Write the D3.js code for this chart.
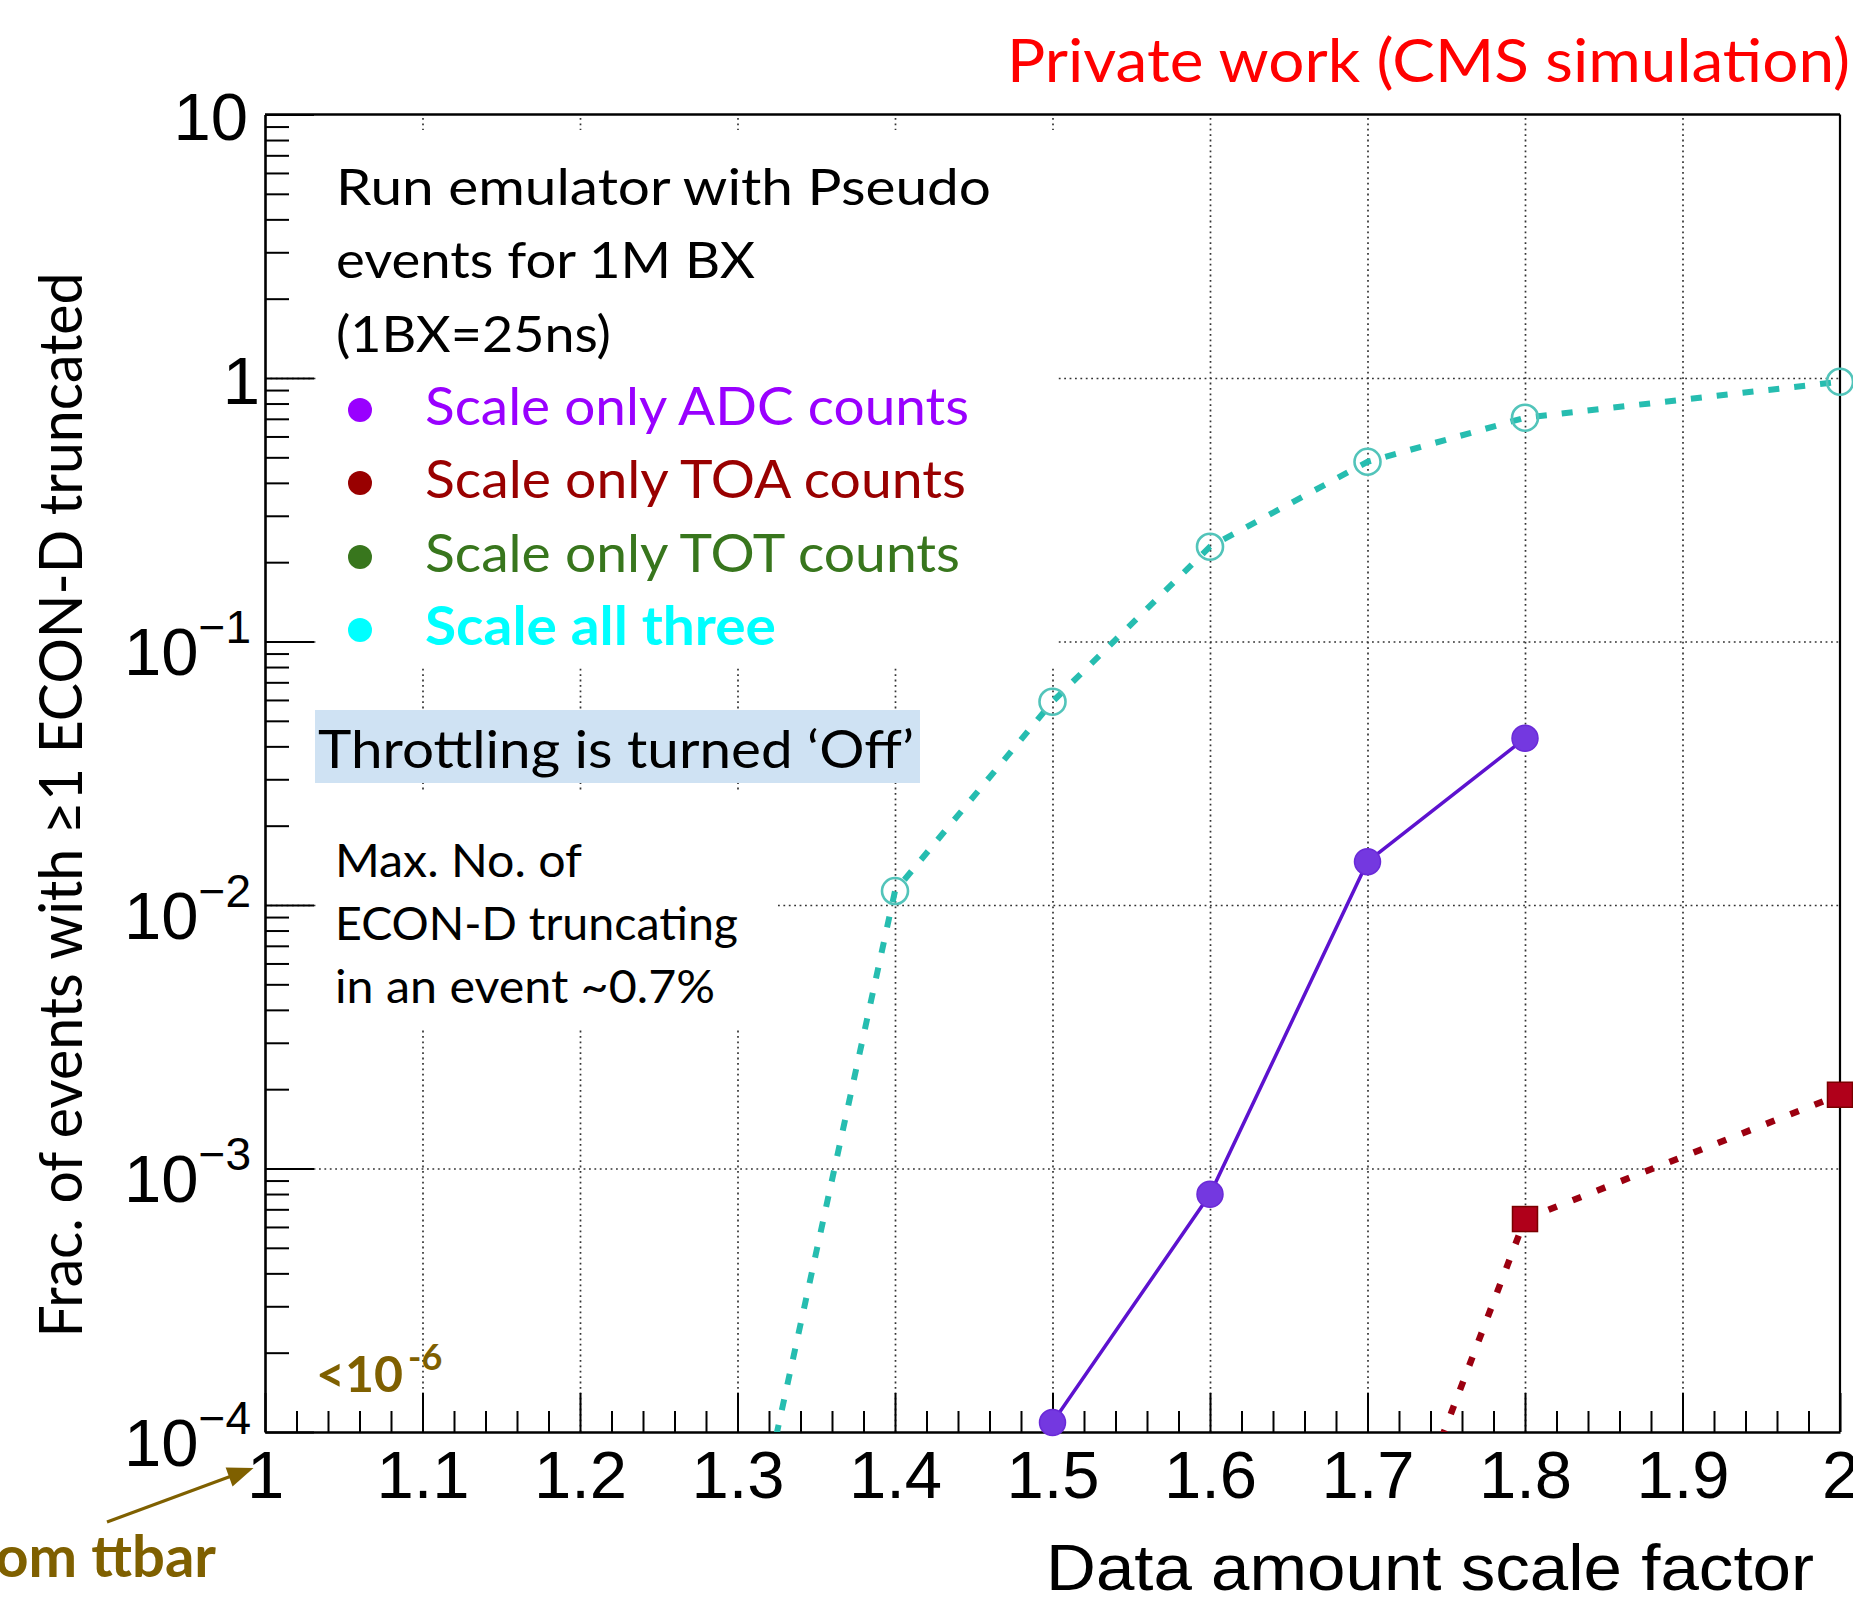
<!DOCTYPE html>
<html>
<head>
<meta charset="utf-8">
<script src="https://cdn.jsdelivr.net/npm/d3@7"></script>
<style>
  html, body { margin: 0; padding: 0; background: #ffffff; }
  svg { display: block; }
</style>
</head>
<body>
<script>
// ---------------- DATA ----------------
const xTickValues = [1, 1.1, 1.2, 1.3, 1.4, 1.5, 1.6, 1.7, 1.8, 1.9, 2];
const xTickLabels = ["1", "1.1", "1.2", "1.3", "1.4", "1.5", "1.6", "1.7", "1.8", "1.9", "2"];
const yTickValues = [10, 1, 0.1, 0.01, 0.001, 0.0001];
const yTickBase = ["10", "1", "10", "10", "10", "10"];
const yTickExp = ["", "", "\u22121", "\u22122", "\u22123", "\u22124"];
const gridX = [1.1, 1.2, 1.3, 1.4, 1.5, 1.6, 1.7, 1.8, 1.9];
const gridY = [1, 0.1, 0.01, 0.001];

// Scale all three (cyan, dashed, open circles)
const allThreeX = [1.3, 1.4, 1.5, 1.6, 1.7, 1.8, 2.0];
const allThreeY = [2.05e-5, 0.0113, 0.0591, 0.229, 0.481, 0.707, 0.968];
// Scale only ADC counts (purple, solid, filled circles)
const adcX = [1.5, 1.6, 1.7, 1.8];
const adcY = [1.086e-4, 7.98e-4, 0.0146, 0.0429];
// Scale only TOA counts (dark red, dotted, squares)
const toaX = [1.7, 1.8, 2.0];
const toaY = [1.73e-5, 6.43e-4, 1.905e-3];
// Scale only TOT counts (no visible entries)
const totX = [];
const totY = [];

const legendLabels = ["Scale only ADC counts", "Scale only TOA counts", "Scale only TOT counts", "Scale all three"];
const legendColors = ["#9900ff", "#990000", "#38761d", "#00ffff"];
const introLines = ["Run emulator with Pseudo", "events for 1M BX", "(1BX=25ns)"];
const noteLines = ["Max. No. of", "ECON-D truncating", "in an event ~0.7%"];

// ---------------- LAYOUT ----------------
const W = 1853, H = 1600;
const P = { left: 265, right: 1840, top: 114.5, bottom: 1432 };
const AXF = "'Liberation Sans', Arial, Helvetica, sans-serif";
const TXF = "Lato, 'Open Sans', 'Noto Sans', sans-serif";

const x = d3.scaleLinear().domain([1, 2]).range([P.left, P.right]);
const y = d3.scaleLog().domain([1e-4, 10]).range([P.bottom, P.top]);

const svg = d3.select("body").append("svg")
  .attr("width", W).attr("height", H)
  .attr("viewBox", `0 0 ${W} ${H}`);

svg.append("rect").attr("width", W).attr("height", H).attr("fill", "#fff");

svg.append("defs").append("clipPath").attr("id", "plotclip")
  .append("rect").attr("x", P.left).attr("y", P.top)
  .attr("width", P.right - P.left).attr("height", P.bottom - P.top);

// ---------------- GRID ----------------
const gx = svg.append("g").attr("transform", `translate(0,${P.bottom})`)
  .call(d3.axisBottom(x).tickValues(gridX).tickSize(-(P.bottom - P.top)).tickFormat(""));
gx.select(".domain").remove();
gx.selectAll("line").attr("stroke", "#333").attr("stroke-width", 1.7).attr("stroke-dasharray", "1.8,3.6");

const gy = svg.append("g").attr("transform", `translate(${P.left},0)`)
  .call(d3.axisLeft(y).tickValues(gridY).tickSize(-(P.right - P.left)).tickFormat(""));
gy.select(".domain").remove();
gy.selectAll("line").attr("stroke", "#333").attr("stroke-width", 1.7).attr("stroke-dasharray", "1.8,3.6");

// ---------------- OVERLAY BOXES (pasted text panels) ----------------
svg.append("rect").attr("x", 316).attr("y", 130).attr("width", 1058 - 316).attr("height", 668 - 130).attr("fill", "#fff");
svg.append("rect").attr("x", 316).attr("y", 790).attr("width", 775 - 316).attr("height", 1030 - 790).attr("fill", "#fff");
svg.append("rect").attr("x", 315).attr("y", 710).attr("width", 920 - 315).attr("height", 783 - 710).attr("fill", "#cfe2f3");

// ---------------- AXES ----------------
// X minor ticks
const xMinor = d3.range(0, 51).filter(i => i % 5 !== 0).map(i => 1 + i / 50);
svg.append("g").attr("transform", `translate(0,${P.bottom})`)
  .call(d3.axisBottom(x).tickValues(xMinor).tickSize(-21).tickFormat(""))
  .call(g => g.select(".domain").remove())
  .selectAll("line").attr("stroke", "#000").attr("stroke-width", 2);

// X major ticks + labels
const xAx = svg.append("g").attr("transform", `translate(0,${P.bottom})`)
  .call(d3.axisBottom(x).tickValues(xTickValues).tickSizeInner(-39).tickSizeOuter(0).tickPadding(18)
    .tickFormat((d, i) => xTickLabels[i]));
xAx.select(".domain").attr("stroke", "#000").attr("stroke-width", 2.6);
xAx.selectAll("line").attr("stroke", "#000").attr("stroke-width", 2);
xAx.selectAll("text").attr("font-family", AXF).attr("font-size", 67).attr("fill", "#000");

// Y minor ticks
const yMinor = [];
for (let n = -4; n <= 0; n++) for (let k = 2; k <= 9; k++) yMinor.push(k * Math.pow(10, n));
svg.append("g").attr("transform", `translate(${P.left},0)`)
  .call(d3.axisLeft(y).tickValues(yMinor).tickSize(-24).tickFormat(""))
  .call(g => g.select(".domain").remove())
  .selectAll("line").attr("stroke", "#000").attr("stroke-width", 2);

// Y major ticks + labels
const yAx = svg.append("g").attr("transform", `translate(${P.left},0)`)
  .call(d3.axisLeft(y).tickValues(yTickValues).tickSizeInner(-49).tickSizeOuter(0).tickPadding(17)
    .tickFormat(""));
yAx.select(".domain").attr("stroke", "#000").attr("stroke-width", 2.6);
yAx.selectAll("line").attr("stroke", "#000").attr("stroke-width", 2);
yAx.selectAll(".tick text").each(function (d, i) {
  const t = d3.select(this).text(null)
    .attr("font-family", AXF).attr("font-size", 67).attr("fill", "#000");
  if (yTickExp[i] === "") {
    t.attr("dy", 25);
    const sp = t.append("tspan").text(yTickBase[i]);
    if (yTickBase[i] === "1") t.attr("dx", 12);
  } else {
    t.attr("dy", 33).attr("dx", 3);
    t.append("tspan").text(yTickBase[i]);
    t.append("tspan").attr("font-size", 46).attr("dy", -32).text(yTickExp[i]);
  }
});

// Frame top and right
svg.append("line").attr("x1", P.left).attr("x2", P.right).attr("y1", P.top).attr("y2", P.top)
  .attr("stroke", "#000").attr("stroke-width", 2.6);
svg.append("line").attr("x1", P.right).attr("x2", P.right).attr("y1", P.top).attr("y2", P.bottom)
  .attr("stroke", "#000").attr("stroke-width", 2.2);

// ---------------- SERIES ----------------
const zip = (xs, ys) => xs.map((v, i) => [v, ys[i]]);
const line = d3.line().x(d => x(d[0])).y(d => y(d[1]));
const plotG = svg.append("g").attr("clip-path", "url(#plotclip)");
const inRange = d => d[1] >= 1e-4 && d[1] <= 10;

const allThree = zip(allThreeX, allThreeY);
const adc = zip(adcX, adcY);
const toa = zip(toaX, toaY);
const tot = zip(totX, totY);

plotG.append("path").datum(allThree).attr("d", line)
  .attr("fill", "none").attr("stroke", "#26bdb0").attr("stroke-width", 6)
  .attr("stroke-dasharray", "11,15");
plotG.append("path").datum(toa).attr("d", line)
  .attr("fill", "none").attr("stroke", "#9b0010").attr("stroke-width", 6.5)
  .attr("stroke-dasharray", "9,17");
plotG.append("path").datum(adc).attr("d", line)
  .attr("fill", "none").attr("stroke", "#5d12cf").attr("stroke-width", 3.5);
plotG.append("path").datum(tot).attr("d", line)
  .attr("fill", "none").attr("stroke", "#38761d").attr("stroke-width", 3);

svg.append("g").selectAll("circle").data(allThree.filter(inRange)).join("circle")
  .attr("cx", d => x(d[0])).attr("cy", d => y(d[1])).attr("r", 13)
  .attr("fill", "none").attr("stroke", "#52c4ba").attr("stroke-width", 2.6);

svg.append("g").selectAll("circle").data(adc.filter(inRange)).join("circle")
  .attr("cx", d => x(d[0])).attr("cy", d => y(d[1])).attr("r", 13)
  .attr("fill", "#7438e0").attr("stroke", "#6a2ad8").attr("stroke-width", 1.5);

svg.append("g").selectAll("rect").data(toa.filter(inRange)).join("rect")
  .attr("x", d => x(d[0]) - 12.5).attr("y", d => y(d[1]) - 12.5)
  .attr("width", 25).attr("height", 25)
  .attr("fill", "#b0001a").attr("stroke", "#7a0000").attr("stroke-width", 1.5);

// ---------------- TEXTS ----------------
svg.append("text").attr("x", 1007).attr("y", 82)
  .attr("font-family", TXF).attr("font-size", 60).attr("fill", "#ff0000")
  .attr("textLength", 843).attr("lengthAdjust", "spacingAndGlyphs")
  .text("Private work (CMS simulation)");

svg.append("text").attr("transform", "translate(82,805) rotate(-90)")
  .attr("text-anchor", "middle")
  .attr("font-family", TXF).attr("font-size", 60).attr("fill", "#000")
  .attr("textLength", 1065).attr("lengthAdjust", "spacingAndGlyphs")
  .text("Frac. of events with \u22651 ECON-D truncated");

svg.append("text").attr("x", 1814).attr("y", 1590).attr("text-anchor", "end")
  .attr("font-family", AXF).attr("font-size", 64).attr("fill", "#000")
  .attr("textLength", 768).attr("lengthAdjust", "spacingAndGlyphs")
  .text("Data amount scale factor");

// Intro lines
const introW = [655, 419, 275];
const introB = [205, 278, 352];
introLines.forEach((s, i) => {
  svg.append("text").attr("x", 336).attr("y", introB[i])
    .attr("font-family", TXF).attr("font-size", 51).attr("fill", "#000")
    .attr("textLength", introW[i]).attr("lengthAdjust", "spacingAndGlyphs").text(s);
});

// Legend entries
const legW = [544, 541, 535, 351];
const legB = [425, 498, 572, 645];
legendLabels.forEach((s, i) => {
  svg.append("circle").attr("cx", 360).attr("cy", legB[i] - 15).attr("r", 12).attr("fill", legendColors[i]);
  svg.append("text").attr("x", 425).attr("y", legB[i])
    .attr("font-family", TXF).attr("font-size", 53)
    .attr("font-weight", i === 3 ? 700 : 400)
    .attr("fill", legendColors[i])
    .attr("textLength", legW[i]).attr("lengthAdjust", "spacingAndGlyphs").text(s);
});

// Throttling box text
svg.append("text").attr("x", 318).attr("y", 768)
  .attr("font-family", TXF).attr("font-size", 53).attr("fill", "#000")
  .attr("textLength", 596).attr("lengthAdjust", "spacingAndGlyphs")
  .text("Throttling is turned \u2018Off\u2019");

// Note lines
const noteW = [247, 403, 380];
const noteB = [877, 940, 1003];
noteLines.forEach((s, i) => {
  svg.append("text").attr("x", 335).attr("y", noteB[i])
    .attr("font-family", TXF).attr("font-size", 46).attr("fill", "#000")
    .attr("textLength", noteW[i]).attr("lengthAdjust", "spacingAndGlyphs").text(s);
});

// <10^-6 annotation
const lt = svg.append("text").attr("x", 316).attr("y", 1392)
  .attr("font-family", TXF).attr("font-size", 50).attr("font-weight", 700).attr("fill", "#7f6000");
lt.append("tspan").text("<10");
lt.append("tspan").attr("font-size", 36).attr("dy", -22).attr("dx", 5).text("-6");

// "From ttbar" annotation with arrow
svg.append("text").attr("x", 216).attr("y", 1577).attr("text-anchor", "end")
  .attr("font-family", TXF).attr("font-size", 58).attr("font-weight", 700).attr("fill", "#7f6000")
  .text("From ttbar");

const a0 = [107, 1522], a1 = [253.5, 1468];
const dxA = a1[0] - a0[0], dyA = a1[1] - a0[1], LA = Math.hypot(dxA, dyA);
const ux = dxA / LA, uy = dyA / LA, hl = 26, hw = 10;
const bx = a1[0] - hl * ux, by = a1[1] - hl * uy;
svg.append("line").attr("x1", a0[0]).attr("y1", a0[1]).attr("x2", bx + 4 * ux).attr("y2", by + 4 * uy)
  .attr("stroke", "#7f6000").attr("stroke-width", 3.2);
svg.append("polygon")
  .attr("points", [[a1[0], a1[1]], [bx - hw * uy, by + hw * ux], [bx + hw * uy, by - hw * ux]].map(p => p.join(",")).join(" "))
  .attr("fill", "#7f6000");
</script>
</body>
</html>
